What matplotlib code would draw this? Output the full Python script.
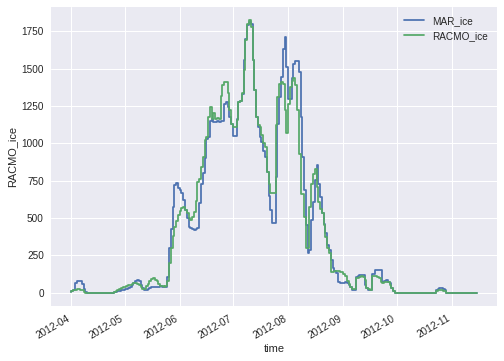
import matplotlib
matplotlib.use('Agg')
import matplotlib.pyplot as plt
import matplotlib.dates as mdates
import pandas as pd

plt.style.use('seaborn-v0_8')

# daily values, 2012-04-01 .. 2012-11-15
time = pd.date_range('2012-04-01', '2012-11-15', freq='D')

mar_ice = [
    5, 10, 15, 65, 78, 78, 75, 60, 25, 5,
    0, 0, 0, 0, 0, 0, 0, 0, 0, 0, 0, 0, 0, 0, 0,
    2, 5, 8, 12, 15,
    20, 22, 25, 30, 38, 50, 65, 78, 82, 75,
    50, 30, 20, 18, 25, 30, 35, 38, 40, 40,
    40, 42, 40, 38, 35, 105, 297, 424, 574, 720,
    735, 700, 690, 665, 620, 550, 500, 440, 430, 425,
    420, 425, 430, 600, 730, 800, 900, 1030, 1040, 1150,
    1160, 1145, 1140, 1150, 1145, 1150, 1150, 1265, 1275, 1240,
    1175, 1130, 1050, 1050, 1160, 1275, 1280, 1330, 1555, 1700,
    1790, 1812, 1800, 1556, 1355, 1176, 1110, 1040, 1010, 950,
    905, 808, 650, 550, 465, 465, 775, 1130, 1310, 1445,
    1635, 1710, 1510, 1300, 1300, 1440, 1530, 1550, 1550, 1480,
    1176, 908, 685, 450, 262, 285, 485, 607, 752, 853,
    730, 640, 530, 460, 396, 317, 285, 217, 162, 145,
    128, 72, 61, 61, 65, 70, 65, 50, 39, 20,
    16, 105, 110, 115, 117, 117, 50, 27, 20, 20,
    123, 125, 150, 150, 150, 150, 72, 75, 83, 70,
    61, 30, 11, 0, 0, 0, 0, 0, 0, 0,
    0, 0, 0, 0, 0, 0, 0, 0, 0, 0,
    0, 0, 0, 0, 0, 0, 15, 25, 30, 30,
    25, 15, 0, 0, 0, 0, 0, 0, 0, 0,
    0, 0, 0, 0, 0, 0, 0, 0, 0,
]

racmo_ice = [
    5, 10, 15, 20, 22, 22, 20, 15, 5, 0,
    0, 0, 0, 0, 0, 0, 0, 0, 0, 0, 0, 0, 0, 0, 0,
    5, 12, 18, 22, 28,
    35, 38, 42, 48, 52, 58, 62, 65, 60, 50,
    35, 22, 25, 45, 60, 75, 88, 95, 85, 75,
    60, 45, 42, 40, 45, 80, 200, 300, 380, 440,
    480, 520, 545, 565, 575, 550, 530, 500, 485, 505,
    540, 610, 740, 760, 840, 910, 1020, 1040, 1175, 1240,
    1165, 1200, 1165, 1170, 1160, 1320, 1390, 1410, 1410, 1335,
    1220, 1130, 1110, 1110, 1155, 1275, 1280, 1335, 1490, 1690,
    1800, 1823, 1780, 1556, 1355, 1176, 1120, 1110, 1055, 1000,
    975, 808, 730, 665, 665, 665, 1120, 1310, 1400, 1410,
    1400, 1220, 1070, 1265, 1380, 1420, 1435, 1390, 1220, 930,
    660, 660, 507, 295, 295, 574, 730, 797, 830, 708,
    607, 560, 531, 450, 373, 300, 262, 140, 140, 145,
    145, 145, 140, 135, 127, 110, 80, 55, 40, 25,
    22, 94, 100, 105, 110, 105, 83, 27, 22, 20,
    110, 110, 108, 105, 100, 70, 67, 70, 72, 72,
    50, 33, 10, 0, 0, 0, 0, 0, 0, 0,
    0, 0, 0, 0, 0, 0, 0, 0, 0, 0,
    0, 0, 0, 0, 0, 0, 8, 15, 15, 15,
    12, 8, 0, 0, 0, 0, 0, 0, 0, 0,
    0, 0, 0, 0, 0, 0, 0, 0, 0,
]

fig, ax = plt.subplots(figsize=(7, 5.014), dpi=72)
ax.plot(time, mar_ice, drawstyle='steps', label='MAR_ice')
ax.plot(time, racmo_ice, drawstyle='steps', label='RACMO_ice')

ax.set_xlabel('time')
ax.set_ylabel('RACMO_ice')
ax.xaxis.set_major_locator(mdates.MonthLocator())
ax.xaxis.set_major_formatter(mdates.DateFormatter('%Y-%m'))
ax.set_yticks(range(0, 2000, 250))
ax.legend(loc='upper right')

fig.autofmt_xdate()
fig.subplots_adjust(left=0.101, right=0.986, top=0.981, bottom=0.152)
fig.savefig('out.png', dpi=72)
